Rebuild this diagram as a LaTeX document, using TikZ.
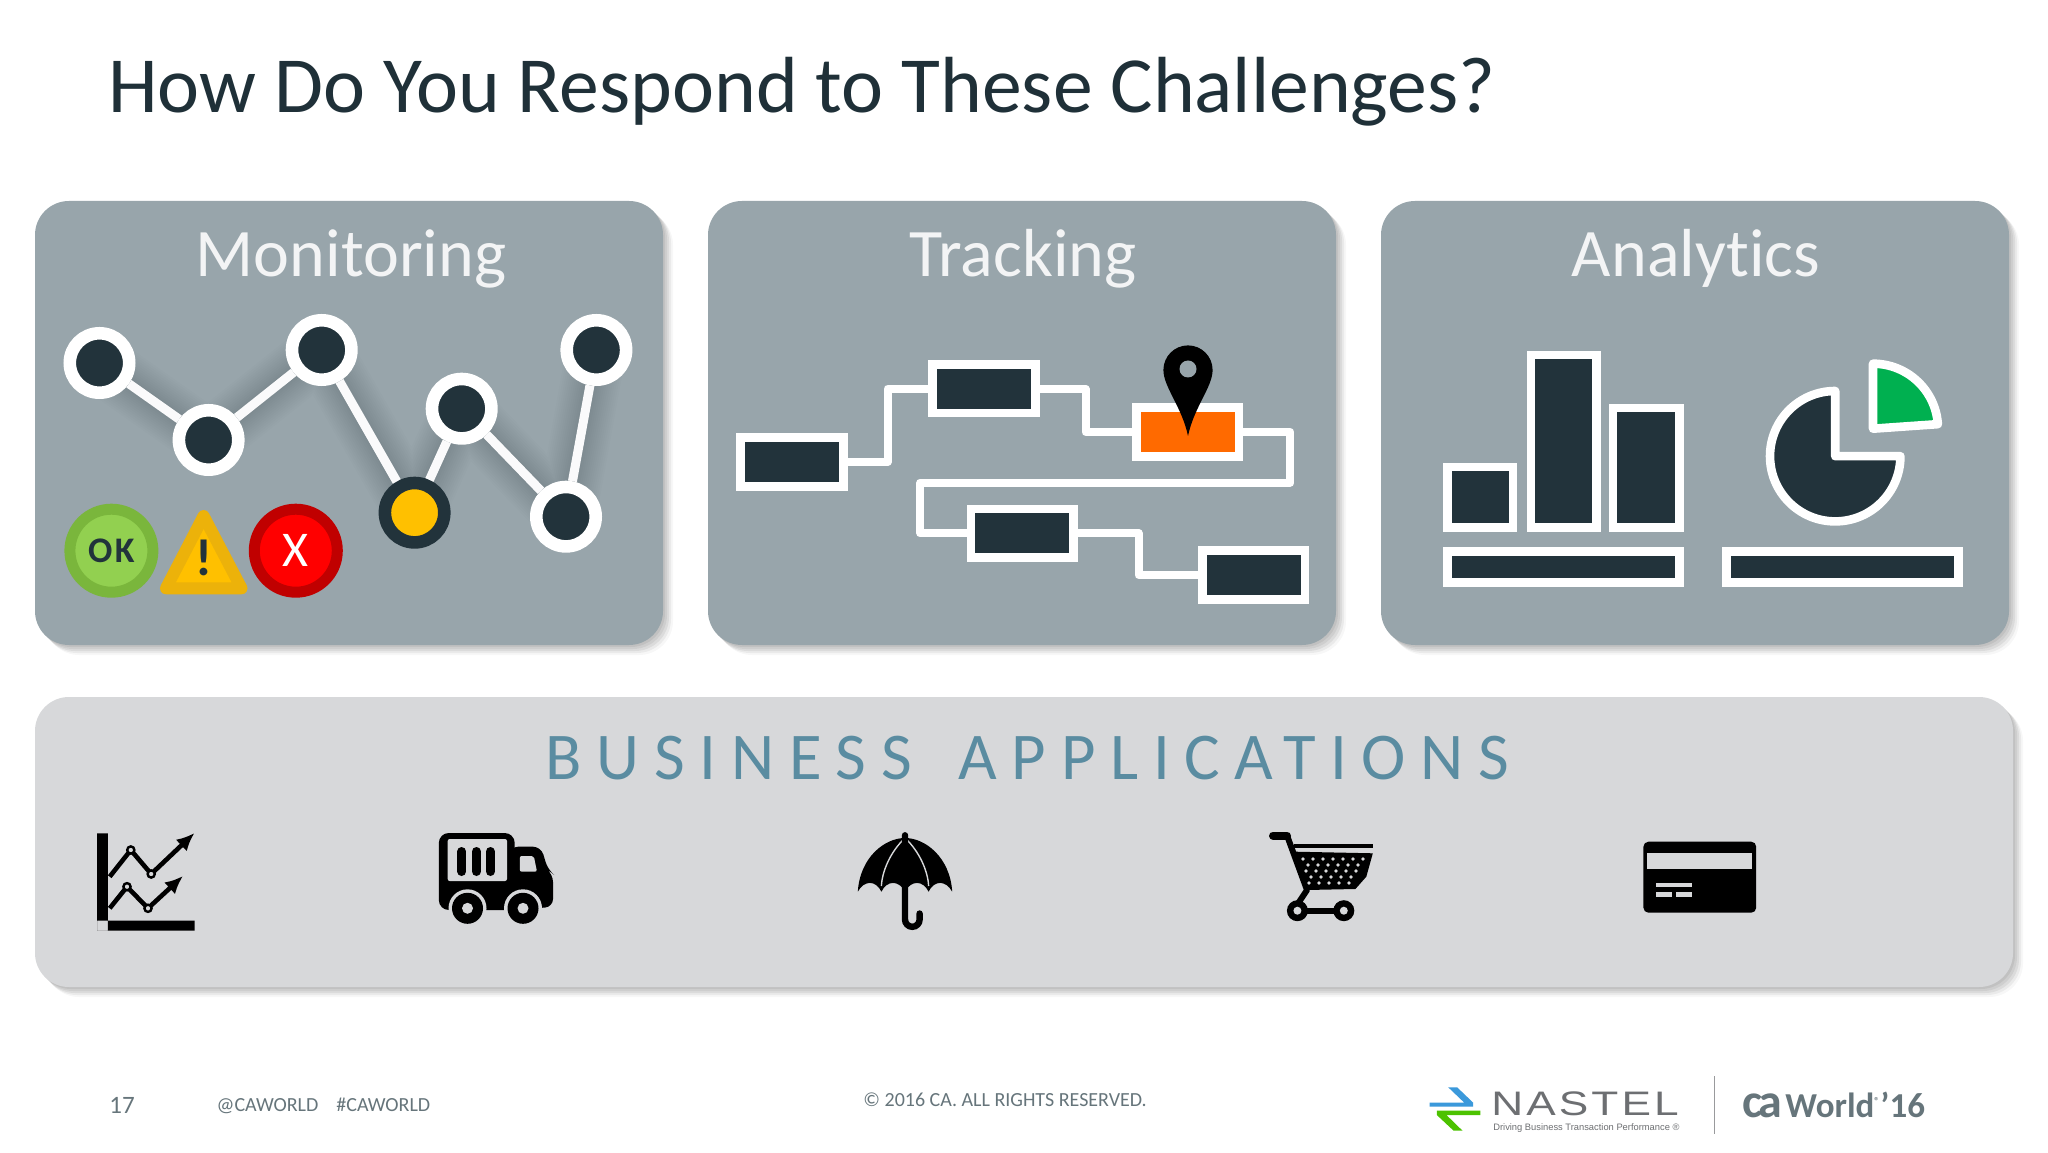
\documentclass[tikz,border=0pt]{standalone}
\usepackage{fontspec}
\setmainfont[Ligatures=NoCommon]{Carlito}
\newfontfamily\spacedfont[LetterSpace=22, Ligatures=NoCommon]{Carlito}
\newfontfamily\logofont{Liberation Sans}
\newfontfamily\logospaced[FakeStretch=1.3, LetterSpace=9]{Liberation Sans}
\usepackage{xcolor}
\usetikzlibrary{arrows.meta, positioning, shadows}
\definecolor{slate}{HTML}{98A5AB}
\definecolor{pale}{HTML}{D7D8DA}
\definecolor{ink}{HTML}{22333B}
\definecolor{heading}{HTML}{1F3038}
\definecolor{teal}{HTML}{5A8CA1}
\definecolor{foot}{HTML}{66757B}
\definecolor{logogray}{HTML}{6D6F72}
\tikzset{
    softshadow/.style={
        general shadow={fill=black, opacity=.06, shadow xshift=1pt, shadow yshift=-1pt},
        general shadow={fill=black, opacity=.06, shadow xshift=2pt, shadow yshift=-2pt},
        general shadow={fill=black, opacity=.06, shadow xshift=3pt, shadow yshift=-3pt},
        general shadow={fill=black, opacity=.05, shadow xshift=4pt, shadow yshift=-4pt},
        general shadow={fill=black, opacity=.03, shadow xshift=5pt, shadow yshift=-5pt}},
    panel/.style={rectangle, rounded corners=17pt, fill=slate, minimum width=314pt, minimum height=222pt, inner sep=0pt, outer sep=0pt, softshadow},
    paneltitle/.style={anchor=base, inner sep=0pt, text=white!88!slate, font=\fontsize{34pt}{37pt}\selectfont},
    dot/.style={circle, fill=ink, draw=white, line width=6.3pt, minimum size=29.7pt, inner sep=0pt},
    link/.style={draw=white!95!slate, line width=4.5pt},
    lamp/.style={circle, line width=5.5pt, minimum size=41.5pt, inner sep=0pt},
    task/.style={rectangle, fill=ink, draw=white, line width=4.3pt, minimum width=51.4pt, minimum height=24.4pt, inner sep=0pt},
    wire/.style={draw=white, line width=4pt, line join=round},
    tile/.style 2 args={rectangle, fill=ink, draw=white, line width=4.3pt, minimum width=#1pt, minimum height=#2pt, inner sep=0pt},
    footnote/.style={anchor=base west, inner sep=0pt, text=foot, font=\fontsize{10pt}{12pt}\selectfont}
}
\begin{document}
\begin{tikzpicture}[x=0.5pt, y=0.5pt]
    \useasboundingbox (0,0) rectangle (2048,1152);
    \fill[white] (0,0) rectangle (2048,1152);
    \node[anchor=base west, inner sep=0pt, text=heading, font=\fontsize{39.8pt}{43pt}\selectfont] (title) at (108,1039) {How Do You Respond to These Challenges?};

    \node[panel] (monitoring) at (349,729) {};
    \node[panel] (tracking) [right=22.5pt of monitoring] {};
    \node[panel] (analytics) [right=22.5pt of tracking] {};
    \node[panel, fill=pale, minimum width=989pt, minimum height=145pt] (business) at (1024,310) {};

    \node[paneltitle] (monitoringtitle) at (351,875) {Monitoring};
    \node[paneltitle] (trackingtitle) at (1023,875) {Tracking};
    \node[paneltitle] (analyticstitle) at (1696,875) {Analytics};

    \coordinate (p1) at (99.5,789);
    \coordinate (p2) at (208.6,712);
    \coordinate (p3) at (321.7,802);
    \coordinate (p4) at (414.6,639.3);
    \coordinate (p5) at (461.7,743.3);
    \coordinate (p6) at (566,635.3);
    \coordinate (p7) at (596.4,802);
    \foreach \w in {30,28,...,6}
        \draw[black, opacity=.009, line width=\w pt, line join=round, line cap=round, shift={(8,-8)}]
            (p1) -- (p2) -- (p3) -- (p4) -- (p5) -- (p6) -- (p7);
    \node[dot] (n1) at (p1) {};
    \node[dot] (n2) at (p2) {};
    \node[dot] (n3) at (p3) {};
    \node[dot, fill={rgb,255:red,255;green,192;blue,0}, draw=ink] (n4) at (p4) {};
    \node[dot] (n5) at (p5) {};
    \node[dot] (n6) at (p6) {};
    \node[dot] (n7) at (p7) {};
    \path[link]
    (n1) edge (n2)
    (n2) edge (n3)
    (n3) edge (n4)
    (n4) edge (n5)
    (n5) edge (n6)
    (n6) edge (n7);

    \node[lamp, fill={rgb,255:red,146;green,208;blue,80}, draw={rgb,255:red,122;green,182;blue,60}, text=ink, font=\fontsize{18pt}{20pt}\bfseries\selectfont] (ok) at (111.4,601.3) {O\kern1.2pt K};
    \draw[fill={rgb,255:red,255;green,192;blue,0}, draw={rgb,255:red,236;green,178;blue,10}, line width=6pt, line join=round] (203.6,636) -- (166,563.7) -- (241.5,563.7) -- cycle;
    \node[anchor=base, inner sep=0pt, text=ink, font=\fontsize{26pt}{28pt}\bfseries\selectfont] (warn) at (204.2,576.3) {!};
    \node[lamp, fill=red, draw={rgb,255:red,192;green,0;blue,0}, text=white, font=\fontsize{25pt}{27pt}\selectfont] (fail) at (295.8,601.3) {X};

    \node[task] (box1) at (791.9,690) {};
    \node[task] (box2) at (983.8,763.3) {};
    \node[task, fill={rgb,255:red,255;green,106;blue,0}] (box3) at (1187.6,720) {};
    \node[task] (box4) at (1022.3,618.7) {};
    \node[task] (box5) at (1253.6,577) {};
    \draw[wire] (box1.east) -- ++(40,0) |- (box2.west);
    \draw[wire] (box2.east) -- ++(46,0) |- (box3.west);
    \draw[wire] (box3.east) -- ++(47,0) -- ++(0,-50.7) -- ++(-370,0) |- (box4.west);
    \draw[wire] (box4.east) -- ++(60.5,0) |- (box5.west);
    \fill[black] (1188,716) .. controls (1182,745) and (1163.4,765) .. (1163.4,782)
        arc[start angle=180, end angle=0, radius=24.6]
        .. controls (1212.6,765) and (1194,745) .. (1188,716) -- cycle;
    \fill[slate] (1188,783) circle (8.5);

    \node[tile={32.8}{30.35}] (bar1) at (1480,654.65) {};
    \node[tile={32.6}{86.35}] (bar2) at (1563.6,710.65) {};
    \node[tile={33.2}{59.85}] (bar3) at (1646.3,684.15) {};
    \node[tile={116.15}{15.7}] (base1) at (1563.35,585) {};
    \node[tile={116}{15.7}] (base2) at (1842.25,585) {};
    \draw[fill=ink, draw=white, line width=4.3pt, line join=round] (1835.2,695.8) -- ++(0,65.2)
        arc[start angle=90, end angle=360, radius=65.2] -- cycle;
    \draw[fill={rgb,255:red,0;green,176;blue,80}, draw=white, line width=4.3pt, line join=round] (1873,723.3) -- ++(0,65)
        arc[start angle=90, end angle=4, radius=65] -- cycle;

    \node[anchor=base west, inner sep=0pt, text=teal, font=\spacedfont\fontsize{33.4pt}{36pt}\selectfont] (apps) at (545.4,373) {BUSINESS\hspace{8.5pt} APPLICATIONS};

    \fill[black] (97,318.7) rectangle (107.8,221.3) (97,221.3) rectangle (194.5,231.3);
    \draw[black, line width=2.3pt, line join=round, -{Latex[length=9pt, width=8pt]}] (109.7,275.3) -- (130.8,302) -- (151.2,278) -- (194.5,319);
    \draw[black, line width=2.3pt, line join=round, -{Latex[length=9pt, width=8pt]}] (109.7,243.7) -- (127,265.3) -- (148,243.7) -- (183,276);
    \foreach \px/\py in {130.8/302, 151.2/278, 127/265.3, 148/243.7}
        \draw[black, fill=pale, line width=1.2pt] (\px,\py) circle (3.6);

    \fill[black, rounded corners=5pt] (438.8,319) rectangle (514.7,242);
    \fill[black, rounded corners=4pt] (510,305.3) -- (541,305.3) -- (548,282) -- (553,278) -- (553,245) -- (510,242) -- cycle;
    \fill[pale, rounded corners=1pt] (447.7,313) rectangle (507,271);
    \foreach \px in {461.8,476.4,490.4}
        \draw[black, line width=4.5pt, line cap=round] (\px,300.5) -- (\px,280.5);
    \fill[pale, rounded corners=1pt] (519.8,296) -- (533.8,296) -- (537,280.3) -- (519.8,280.3) -- cycle;
    \foreach \px in {467.5,523} {
        \fill[pale] (\px,243.7) circle (19);
        \fill[black] (\px,243.7) circle (15.5);
        \fill[pale] (\px,243.7) circle (5.5);
    }

    \fill[black] (857.8,260.3) .. controls (860,295) and (885,314) .. (905,314)
        .. controls (925,314) and (950,295) .. (952.2,260.3)
        .. controls (946,272) and (934,272) .. (928.6,260.3)
        .. controls (923,272) and (911,272) .. (905,260.3)
        .. controls (899,272) and (887,272) .. (881.4,260.3)
        .. controls (876,272) and (864,272) .. (857.8,260.3) -- cycle;
    \draw[pale, line width=.7pt] (905,314) .. controls (890,300) and (882,280) .. (881.4,266)
        (905,314) .. controls (920,300) and (928,280) .. (928.6,266);
    \draw[black, line width=3.2pt, line cap=round] (905,316.7) -- (905,232.5) arc[start angle=180, end angle=360, radius=7.3] -- ++(0,6);

    \draw[black, line width=4pt, line cap=round] (1273,316.5) -- (1287,316.5);
    \draw[black, line width=3pt, line join=round] (1287,316.5) -- (1307,262) -- (1293,241);
    \draw[black, line width=1.8pt] (1294,306) -- (1372.8,306);
    \fill[black] (1295.5,300.3) -- (1372.8,298.7) -- (1366.3,275.3) -- (1355.4,263) -- (1307,262) -- cycle;
    \foreach \row/\first/\n in {293/1293/7, 287/1298/6, 281/1296/6, 275/1301/5, 269/1299/5}
        \foreach \i in {1,...,\n}
            \fill[pale] ({\first+\i*10},\row) circle (1.9);
    \draw[black, line width=3pt] (1297.4,241.3) -- (1343.8,241.3);
    \foreach \px in {1297.4,1343.8} {
        \fill[black] (\px,241.3) circle (10.5);
        \fill[pale] (\px,241.3) circle (4);
    }

    \fill[black, rounded corners=2.5pt] (1643.4,310.3) rectangle (1756.2,239.3);
    \fill[pale] (1647,298.7) rectangle (1751.6,282.7);
    \fill[pale] (1656.3,268.7) rectangle (1692.4,265.3);
    \fill[pale] (1656.3,259.7) rectangle (1672.4,255.3);
    \fill[pale] (1676.2,259.7) rectangle (1692.4,255.3);

    \node[footnote, font=\fontsize{12.5pt}{14pt}\selectfont] (page) at (109,39) {17};
    \node[footnote] (handle) at (216.3,40.3) {@CAWORLD};
    \node[footnote] (hash) at (336,40.3) {\#CAWORLD};
    \node[footnote] (rights) at (863,46) {© 2016 CA. ALL RIGHTS RESERVED.};

    \fill[cyan!70!blue!80!white] (1448.2,64.7) -- (1457.1,64.7) -- (1473.2,49.3) -- (1473.2,45.3) -- (1429.6,45.3) -- (1429.6,49.3) -- (1464.3,49.3) -- cycle;
    \fill[green!60!black!60!lime] (1436.8,41.3) -- (1480.4,41.3) -- (1480.4,37) -- (1446.4,37) -- (1462.5,21.3) -- (1453.6,21.3) -- (1436.8,37) -- cycle;
    \node[anchor=base west, inner sep=0pt, text=logogray, font=\logospaced\fontsize{17pt}{19pt}\selectfont] (nastel) at (1491,37) {NASTEL};
    \node[anchor=base west, inner sep=0pt, text=logogray, font=\logofont\fontsize{4.67pt}{6pt}\selectfont] (tagline) at (1492.9,21.3) {Driving Business Transaction Performance ®};
    \draw[logogray!70, line width=.8pt] (1714.3,76) -- (1714.3,18);
    \node[anchor=base west, inner sep=0pt, text=foot, font=\fontsize{24pt}{26pt}\bfseries\selectfont] (calogo) at (1742,34.7) {c\kern-2pt a};
    \node[anchor=base west, inner sep=0pt, text=foot, font=\fontsize{17.5pt}{20pt}\bfseries\selectfont] (world) at (1785,34.7) {World\textsuperscript{\fontsize{5pt}{6pt}\selectfont ®}’16};
\end{tikzpicture}
\end{document}
